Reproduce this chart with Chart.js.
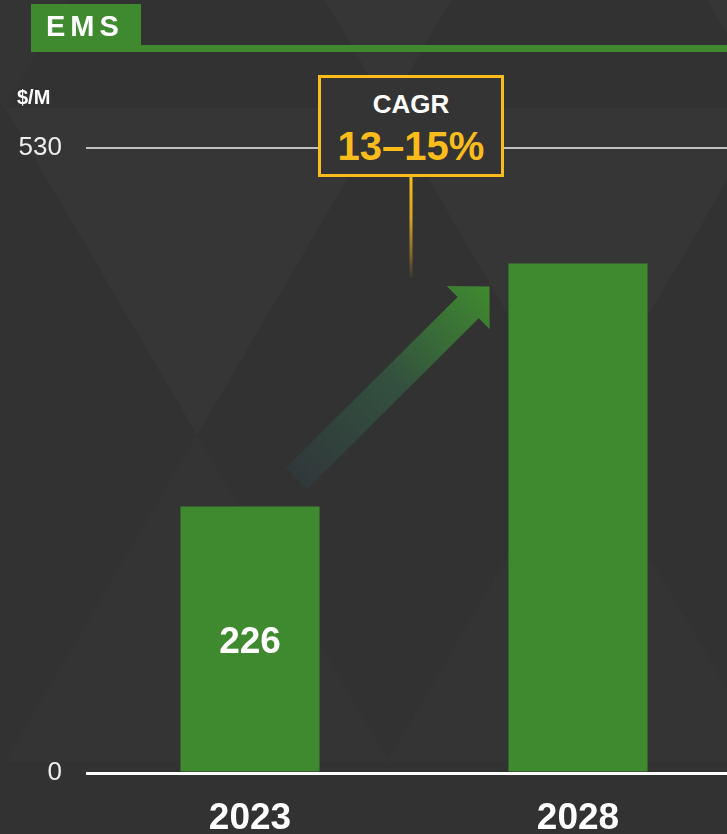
<!DOCTYPE html>
<html>
<head>
<meta charset="utf-8">
<script src="https://cdn.jsdelivr.net/npm/chart.js@4.4.1/dist/chart.umd.min.js"></script>
<style>
  html, body { margin: 0; padding: 0; background: #323232; width: 727px; height: 834px; overflow: hidden; }
  body { position: relative; font-family: "Liberation Sans", Arial, sans-serif; }
  #grafico { position: absolute; left: 0; top: 0; display: block; }
  .titulo { position: absolute; left: 31px; top: 4px; width: 110px; height: 48px; background: #3f8a2f; }
  .titulo span { position: absolute; left: 15px; top: 5px; color: #fff; font-weight: bold; font-size: 29px; letter-spacing: 5px; line-height: 34px; }
  .linha { position: absolute; left: 141px; top: 45px; width: 600px; height: 7px; background: #3f8a2f; }
  .unidade { position: absolute; left: 17px; top: 86px; color: #fff; font-weight: bold; font-size: 20px; line-height: 22px; }
  .cagr { position: absolute; left: 318px; top: 75px; width: 180px; height: 96px; border: 3px solid #f9bc1b; background: #343434; text-align: center; }
  .cagr .t1 { position: absolute; left: 0; right: 0; top: 11px; color: #fff; font-weight: bold; font-size: 26px; line-height: 30px; }
  .cagr .t2 { position: absolute; left: 0; right: 0; top: 45px; color: #f9bc1b; font-weight: bold; font-size: 40px; line-height: 46px; }
</style>
</head>
<body>
<canvas id="grafico" width="742" height="834"></canvas>
<div class="linha"></div>
<div class="titulo"><span>EMS</span></div>
<div class="unidade">$/M</div>
<div class="cagr"><div class="t1">CAGR</div><div class="t2">13–15%</div></div>
<script>
// dados do grafico
const categorias = ['2023', '2028'];
const valores = [226, 432];
const rotulosValor = ['226', ''];
const ticksY = [0, 530];

const cores = {
    fundo: '#323232',
    claro: '#363636',
    medio: '#343434',
    verde: '#3f8a2f',
    ouro: '#f9bc1b',
};

// triangulos do fundo (so decoracao)
const triangulos = [
    [[-186, -219], [196, -219], [5, 108], cores.medio],
    [[196, -219], [580, -219], [388, 108], cores.claro],
    [[580, -219], [962, -219], [770, 108], cores.claro],
    [[5, 108], [389, 108], [197, 435], cores.claro],
    [[387, 108], [770, 108], [578, 435], cores.claro],
    [[197, 435], [5, 762], [389, 762], cores.medio],
    [[578, 435], [387, 762], [770, 762], cores.medio],
];

const fundoPlugin = {
    id: 'fundo',
    beforeDraw(chart) {
        const ctx = chart.ctx;
        ctx.save();
        ctx.fillStyle = cores.fundo;
        ctx.fillRect(0, 0, chart.width, chart.height);
        triangulos.forEach((t) => {
            ctx.fillStyle = t[3];
            ctx.beginPath();
            ctx.moveTo(t[0][0], t[0][1]);
            ctx.lineTo(t[1][0], t[1][1]);
            ctx.lineTo(t[2][0], t[2][1]);
            ctx.closePath();
            ctx.fill();
        });
        ctx.restore();
    }
};

function desenhaSeta(ctx, cauda, ponta) {
    const dx = ponta.x - cauda.x;
    const dy = ponta.y - cauda.y;
    const len = Math.hypot(dx, dy);
    const d = { x: dx / len, y: dy / len };
    const n = { x: -d.y, y: d.x };
    const cabeca = 30;
    const haste = 15;
    const aba = 30.5;
    const base = { x: ponta.x - d.x * cabeca, y: ponta.y - d.y * cabeca };

    const grad = ctx.createLinearGradient(cauda.x, cauda.y, ponta.x, ponta.y);
    grad.addColorStop(0, '#30383a');
    grad.addColorStop(0.5, '#33503f');
    grad.addColorStop(1, '#3f8a2f');

    ctx.save();
    ctx.fillStyle = grad;
    ctx.beginPath();
    ctx.moveTo(cauda.x + n.x * haste, cauda.y + n.y * haste);
    ctx.lineTo(base.x + n.x * haste, base.y + n.y * haste);
    ctx.lineTo(base.x + n.x * aba, base.y + n.y * aba);
    ctx.lineTo(ponta.x, ponta.y);
    ctx.lineTo(base.x - n.x * aba, base.y - n.y * aba);
    ctx.lineTo(base.x - n.x * haste, base.y - n.y * haste);
    ctx.lineTo(cauda.x - n.x * haste, cauda.y - n.y * haste);
    ctx.closePath();
    ctx.fill();
    ctx.restore();
}

const anotacoesPlugin = {
    id: 'anotacoes',
    afterDatasetsDraw(chart) {
        const ctx = chart.ctx;
        const barras = chart.getDatasetMeta(0).data;
        const b1 = barras[0];
        const b2 = barras[1];

        // seta de crescimento
        desenhaSeta(ctx,
            { x: b1.x + b1.width / 2 - 23, y: b1.y - 28 },
            { x: b2.x - b2.width / 2 - 19, y: b2.y + 23 });

        // haste do quadro CAGR
        const xHaste = (b1.x + b2.x) / 2 - 3;
        const topo = chart.scales.y.top + 29;
        const fim = topo + 101;
        const g = ctx.createLinearGradient(0, topo, 0, fim);
        g.addColorStop(0, cores.ouro);
        g.addColorStop(0.4, '#d9a522');
        g.addColorStop(0.8, '#7a6030');
        g.addColorStop(1, 'rgba(80, 70, 50, 0.4)');
        ctx.save();
        ctx.strokeStyle = g;
        ctx.lineWidth = 3;
        ctx.beginPath();
        ctx.moveTo(xHaste, topo);
        ctx.lineTo(xHaste, fim);
        ctx.stroke();

        // valores dentro das barras
        ctx.fillStyle = '#fff';
        ctx.font = 'bold 37px "Liberation Sans", Arial, sans-serif';
        ctx.textAlign = 'center';
        ctx.textBaseline = 'middle';
        barras.forEach((b, i) => {
            if (!rotulosValor[i]) return;
            ctx.fillText(rotulosValor[i], b.x, (b.y + b.base) / 2 + 4);
        });
        ctx.restore();
    }
};

Chart.defaults.font.family = '"Liberation Sans", Arial, sans-serif';

const grafico = new Chart(document.getElementById('grafico'), {
    type: 'bar',
    data: {
        labels: categorias,
        datasets: [{
            label: 'EMS',
            data: valores,
            backgroundColor: cores.verde,
            borderWidth: 0,
            barPercentage: 0.424,
            categoryPercentage: 1,
        }]
    },
    options: {
        responsive: false,
        animation: false,
        devicePixelRatio: 1,
        layout: { padding: { top: 148, right: 0, bottom: 0, left: 0 } },
        plugins: {
            legend: { display: false },
            tooltip: { enabled: false },
        },
        scales: {
            x: {
                grid: { display: false, drawTicks: false },
                border: { display: false },
                ticks: {
                    color: '#fff',
                    padding: 24,
                    font: { size: 37, weight: 'bold' },
                },
                afterFit(scale) { scale.height = 61; },
            },
            y: {
                min: 0,
                max: 530,
                afterBuildTicks(scale) {
                    scale.ticks = ticksY.map((v) => ({ value: v }));
                },
                afterFit(scale) { scale.width = 86; },
                border: { display: false },
                grid: {
                    drawTicks: false,
                    color: (c) => c.tick && c.tick.value === 0 ? '#ffffff' : '#c0c0c0',
                    lineWidth: (c) => c.tick && c.tick.value === 0 ? 3 : 2,
                },
                ticks: {
                    color: '#eeeeee',
                    padding: 24,
                    font: { size: 26 },
                },
            }
        }
    },
    plugins: [fundoPlugin, anotacoesPlugin],
});
</script>
</body>
</html>
